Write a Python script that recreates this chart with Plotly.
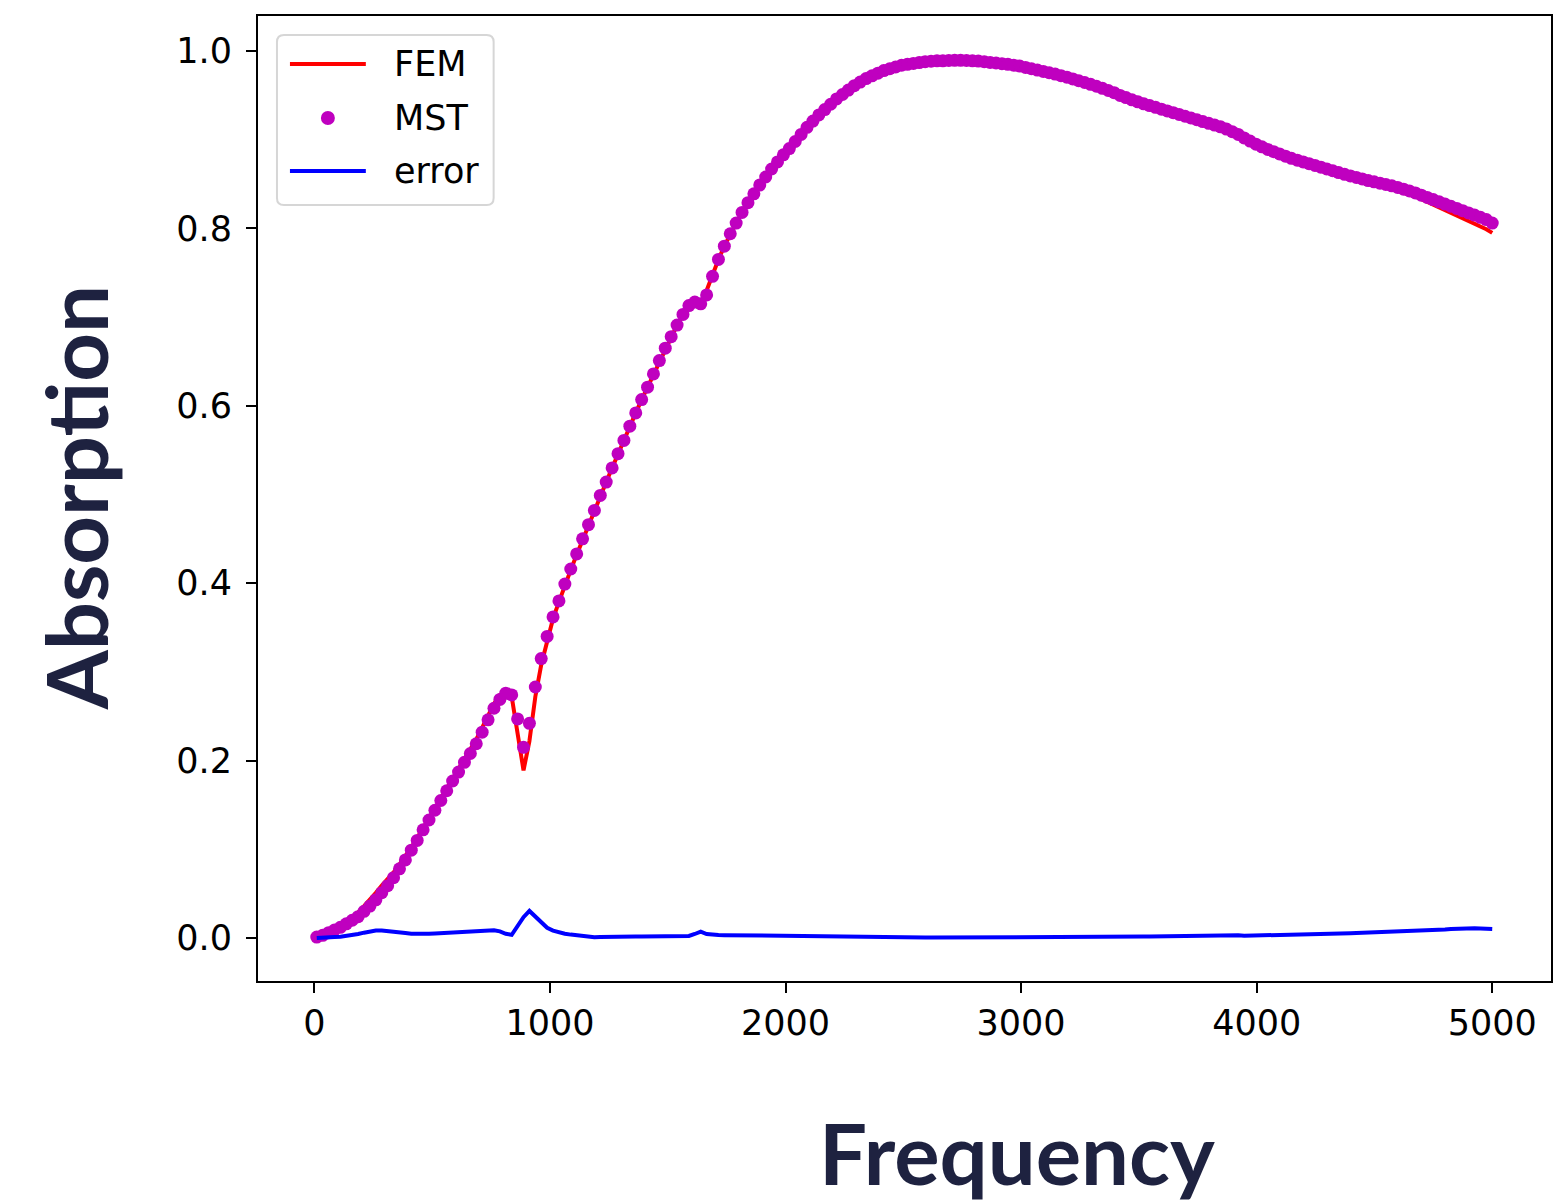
import numpy as np
import plotly.graph_objects as go

# Frequency grid: 200 uniformly spaced samples from 10 Hz to 5000 Hz
FREQ_START, FREQ_STOP, N_SAMPLES = 10, 5000, 200
freq = np.linspace(FREQ_START, FREQ_STOP, N_SAMPLES)

mst = [
    0.001, 0.003, 0.006, 0.009, 0.012, 0.016, 0.020, 0.024, 0.030, 0.036,
    0.043, 0.051, 0.059, 0.068, 0.078, 0.088, 0.099, 0.110, 0.122, 0.133,
    0.144, 0.155, 0.166, 0.177, 0.187, 0.198, 0.208, 0.219, 0.232, 0.246,
    0.259, 0.269, 0.276, 0.274, 0.247, 0.215, 0.242, 0.283, 0.315, 0.340,
    0.362, 0.380, 0.399, 0.416, 0.433, 0.450, 0.466, 0.482, 0.499, 0.514,
    0.530, 0.546, 0.561, 0.577, 0.592, 0.607, 0.621, 0.636, 0.651, 0.665,
    0.678, 0.691, 0.703, 0.713, 0.717, 0.715, 0.725, 0.746, 0.765, 0.780,
    0.794, 0.806, 0.818, 0.829, 0.839, 0.849, 0.858, 0.867, 0.875, 0.883,
    0.890, 0.898, 0.906, 0.914, 0.921, 0.928, 0.934, 0.940, 0.946, 0.951,
    0.956, 0.961, 0.965, 0.969, 0.972, 0.975, 0.978, 0.980, 0.982, 0.984,
    0.985, 0.986, 0.987, 0.988, 0.9885, 0.989, 0.989, 0.9893, 0.9895, 0.9895,
    0.9893, 0.989, 0.9887, 0.988, 0.9872, 0.9865, 0.9857, 0.985, 0.984, 0.983,
    0.9815, 0.980, 0.9785, 0.977, 0.9755, 0.974, 0.9722, 0.9705, 0.9685, 0.9665,
    0.9645, 0.9625, 0.9603, 0.958, 0.9555, 0.953, 0.950, 0.9475, 0.945, 0.9427,
    0.9405, 0.9385, 0.9365, 0.9345, 0.9325, 0.9305, 0.9285, 0.9265, 0.9245, 0.9225,
    0.9205, 0.9185, 0.9165, 0.9145, 0.912, 0.909, 0.906, 0.902, 0.8985, 0.895,
    0.892, 0.889, 0.8865, 0.884, 0.8815, 0.879, 0.877, 0.875, 0.873, 0.871,
    0.869, 0.867, 0.865, 0.863, 0.861, 0.8592, 0.8575, 0.8558, 0.854, 0.8525,
    0.851, 0.8495, 0.848, 0.8462, 0.8443, 0.8422, 0.840, 0.8375, 0.835, 0.8325,
    0.830, 0.8275, 0.825, 0.8225, 0.820, 0.8175, 0.815, 0.8125, 0.810, 0.806,
]

fem = [
    0.000, 0.003, 0.006, 0.010, 0.014, 0.019, 0.024, 0.029, 0.036, 0.043,
    0.051, 0.059, 0.066, 0.074, 0.083, 0.092, 0.102, 0.113, 0.124, 0.135,
    0.146, 0.157, 0.168, 0.179, 0.190, 0.201, 0.212, 0.224, 0.237, 0.251,
    0.264, 0.274, 0.277, 0.272, 0.228, 0.189, 0.222, 0.272, 0.308, 0.336,
    0.360, 0.379, 0.398, 0.415, 0.432, 0.449, 0.465, 0.482, 0.498, 0.514,
    0.530, 0.546, 0.561, 0.577, 0.592, 0.607, 0.621, 0.636, 0.651, 0.665,
    0.678, 0.691, 0.703, 0.713, 0.716, 0.713, 0.730, 0.748, 0.765, 0.780,
    0.794, 0.806, 0.818, 0.829, 0.839, 0.849, 0.858, 0.867, 0.875, 0.883,
    0.890, 0.898, 0.906, 0.914, 0.921, 0.928, 0.934, 0.940, 0.946, 0.951,
    0.956, 0.961, 0.965, 0.969, 0.972, 0.975, 0.978, 0.980, 0.982, 0.984,
    0.985, 0.986, 0.987, 0.988, 0.9885, 0.989, 0.989, 0.9893, 0.9895, 0.9895,
    0.9893, 0.989, 0.9887, 0.988, 0.9872, 0.9865, 0.9857, 0.985, 0.984, 0.983,
    0.9815, 0.980, 0.9785, 0.977, 0.9755, 0.974, 0.9722, 0.9705, 0.9685, 0.9665,
    0.9645, 0.9625, 0.9603, 0.958, 0.9555, 0.953, 0.950, 0.9475, 0.945, 0.9427,
    0.9405, 0.9385, 0.9365, 0.9345, 0.9325, 0.9305, 0.9285, 0.9265, 0.9245, 0.9225,
    0.9205, 0.9185, 0.9165, 0.9145, 0.912, 0.909, 0.906, 0.902, 0.8985, 0.895,
    0.892, 0.889, 0.8865, 0.884, 0.8815, 0.879, 0.877, 0.875, 0.873, 0.871,
    0.869, 0.867, 0.865, 0.863, 0.861, 0.859, 0.857, 0.855, 0.853, 0.851,
    0.849, 0.847, 0.845, 0.843, 0.841, 0.839, 0.836, 0.833, 0.830, 0.827,
    0.824, 0.821, 0.818, 0.815, 0.812, 0.809, 0.806, 0.802, 0.799, 0.795,
]

error = [
    0.0000, 0.0000, 0.0005, 0.0010, 0.0013, 0.0020, 0.0030, 0.0045, 0.0060, 0.0075,
    0.0085, 0.0085, 0.0080, 0.0072, 0.0063, 0.0055, 0.0047, 0.0045, 0.0046, 0.0048,
    0.0051, 0.0055, 0.0059, 0.0063, 0.0067, 0.0071, 0.0075, 0.0080, 0.0085, 0.0090,
    0.0088, 0.0075, 0.0048, 0.0035, 0.0130, 0.0235, 0.0305, 0.0240, 0.0165, 0.0115,
    0.0083, 0.0062, 0.0048, 0.0038, 0.0029, 0.0020, 0.0012, 0.0008, 0.0010, 0.0013,
    0.0015, 0.0016, 0.0017, 0.0017, 0.0018, 0.0018, 0.0019, 0.0019, 0.0020, 0.0020,
    0.0021, 0.0021, 0.0022, 0.0023, 0.0045, 0.0072, 0.0045, 0.0035, 0.0033, 0.0032,
    0.0031, 0.0030, 0.0029, 0.0028, 0.0027, 0.0026, 0.0025, 0.0024, 0.0022, 0.0020,
    0.0018, 0.0017, 0.0016, 0.0015, 0.0014, 0.0013, 0.0012, 0.0011, 0.0010, 0.0010,
    0.0009, 0.0008, 0.0008, 0.0007, 0.0007, 0.0006, 0.0006, 0.0005, 0.0005, 0.0005,
    0.0005, 0.0005, 0.0005, 0.0005, 0.0005, 0.0005, 0.0006, 0.0006, 0.0006, 0.0006,
    0.0006, 0.0007, 0.0007, 0.0007, 0.0007, 0.0007, 0.0008, 0.0008, 0.0008, 0.0008,
    0.0008, 0.0009, 0.0009, 0.0009, 0.0010, 0.0010, 0.0010, 0.0011, 0.0011, 0.0011,
    0.0012, 0.0012, 0.0012, 0.0013, 0.0014, 0.0012, 0.0008, 0.0010, 0.0013, 0.0015,
    0.0016, 0.0017, 0.0018, 0.0019, 0.0020, 0.0021, 0.0022, 0.0023, 0.0024, 0.0025,
    0.0025, 0.0026, 0.0028, 0.0030, 0.0033, 0.0036, 0.0030, 0.0025, 0.0026, 0.0028,
    0.0030, 0.0032, 0.0033, 0.0035, 0.0036, 0.0038, 0.0039, 0.0041, 0.0042, 0.0044,
    0.0045, 0.0047, 0.0048, 0.0050, 0.0052, 0.0054, 0.0056, 0.0058, 0.0060, 0.0062,
    0.0065, 0.0067, 0.0070, 0.0072, 0.0075, 0.0078, 0.0080, 0.0083, 0.0086, 0.0089,
    0.0092, 0.0095, 0.0100, 0.0105, 0.0110, 0.0110, 0.0110, 0.0108, 0.0105, 0.0102,
]

x_ticks = [0, 1000, 2000, 3000, 4000, 5000]
y_ticks = [0.0, 0.2, 0.4, 0.6, 0.8, 1.0]
series_names = ["FEM", "MST", "error"]
series_colors = ["#ff0000", "#bf00bf", "#0000ff"]

# ---- layout geometry (pixels) ----
W, H = 1558, 1204
L, R, T, B = 258, 1553, 16, 981


def px(x):
    return (x - L) / (R - L)


def py(y):
    return (B - y) / (B - T)


fig = go.Figure()
fig.add_trace(go.Scatter(x=freq, y=fem, mode="lines", name=series_names[0],
                         line=dict(color=series_colors[0], width=4), showlegend=False))
fig.add_trace(go.Scatter(x=freq, y=mst, mode="markers", name=series_names[1],
                         marker=dict(color=series_colors[1], size=13, line=dict(width=0)),
                         showlegend=False))
fig.add_trace(go.Scatter(x=freq, y=error, mode="lines", name=series_names[2],
                         line=dict(color=series_colors[2], width=4), showlegend=False))

axis_common = dict(
    showline=True, linecolor="black", linewidth=2, mirror=True,
    ticks="outside", ticklen=10, tickwidth=2, tickcolor="black",
    showgrid=False, zeroline=False,
    tickfont=dict(family="DejaVu Sans", size=35, color="black"),
)

fig.update_xaxes(range=[-239.5, 5249.5], tickvals=x_ticks,
                 ticktext=[str(v) for v in x_ticks], **axis_common)
fig.update_yaxes(range=[-0.0485, 1.0395], tickvals=y_ticks,
                 ticktext=[f"{v:.1f}" for v in y_ticks], ticklabelstandoff=7,
                 **axis_common)

title_font = dict(family="Lato", size=85, color="#1e2240")
fig.add_annotation(text="<b>Frequency</b>", xref="paper", yref="paper",
                   x=px(1018), y=py(1152),
                   showarrow=False, font=title_font, xanchor="center", yanchor="middle")
fig.add_annotation(text="<b>Absorption</b>", xref="paper", yref="paper",
                   x=px(75), y=py(498), textangle=-90,
                   showarrow=False, font=title_font, xanchor="center", yanchor="middle")

# ---- legend box drawn by hand (matplotlib style) ----
bx0, bx1, by0, by1, rad = 277, 494, 35, 205, 7
path = (
    f"M {px(bx0 + rad)} {py(by0)} L {px(bx1 - rad)} {py(by0)} "
    f"Q {px(bx1)} {py(by0)} {px(bx1)} {py(by0 + rad)} "
    f"L {px(bx1)} {py(by1 - rad)} Q {px(bx1)} {py(by1)} {px(bx1 - rad)} {py(by1)} "
    f"L {px(bx0 + rad)} {py(by1)} Q {px(bx0)} {py(by1)} {px(bx0)} {py(by1 - rad)} "
    f"L {px(bx0)} {py(by0 + rad)} Q {px(bx0)} {py(by0)} {px(bx0 + rad)} {py(by0)} Z"
)
fig.add_shape(type="path", path=path, xref="paper", yref="paper",
              line=dict(color="#d6d6d6", width=2), fillcolor="rgba(255,255,255,0.8)")

row_y = [64, 118, 171]
for name, color, yy in zip(series_names, series_colors, row_y):
    if name == "MST":
        r = 7
        fig.add_shape(type="circle", xref="paper", yref="paper",
                      x0=px(328 - r), x1=px(328 + r), y0=py(yy + r), y1=py(yy - r),
                      line=dict(width=0), fillcolor=color)
    else:
        fig.add_shape(type="line", xref="paper", yref="paper",
                      x0=px(290), x1=px(366), y0=py(yy), y1=py(yy),
                      line=dict(color=color, width=4))
    fig.add_annotation(text=name, xref="paper", yref="paper", x=px(392), y=py(yy),
                       xanchor="left", yanchor="middle", showarrow=False,
                       font=dict(family="DejaVu Sans", size=35, color="black"))

fig.update_layout(
    width=W, height=H,
    margin=dict(l=L, r=W - R, t=T, b=H - B),
    plot_bgcolor="white", paper_bgcolor="white",
    showlegend=False,
)

fig.write_html("out.html")
